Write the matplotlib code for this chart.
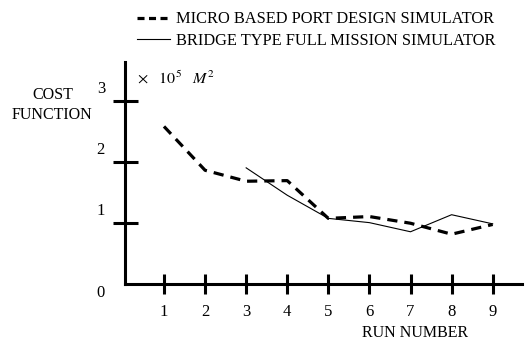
import numpy as np
import matplotlib.pyplot as plt
from matplotlib.lines import Line2D
import matplotlib.transforms as mtransforms

plt.rcParams['font.family'] = ['Liberation Serif', 'DejaVu Serif']

runs = [1, 2, 3, 4, 5, 6, 7, 8, 9]
micro_cost = [2.58, 1.86, 1.68, 1.69, 1.07, 1.10, 0.99, 0.81, 0.97]
bridge_runs = [3, 4, 5, 6, 7, 8, 9]
bridge_cost = [1.90, 1.45, 1.07, 1.00, 0.85, 1.13, 0.98]
y_ticks = [1, 2, 3]

fig = plt.figure(figsize=(5.25, 3.42), dpi=100)
ax = fig.add_axes([0.238, 0.171, 0.756, 0.648])

ax.plot(runs, micro_cost, color='black', lw=2.3, dashes=(3.2, 2.2))
ax.plot(bridge_runs, bridge_cost, color='black', lw=0.8)

ax.set_xlim(0.05, 9.71)
ax.set_ylim(0, 3.64)
for s in ['top', 'right']:
    ax.spines[s].set_visible(False)
for s in ['left', 'bottom']:
    ax.spines[s].set_linewidth(2.2)

ax.set_xticks(runs)
ax.set_xticklabels([str(r) for r in runs], fontsize=12)
ax.set_yticks(y_ticks)
ax.set_yticklabels([])
ax.tick_params(axis='x', direction='inout', length=14, width=2.2, pad=8)
ax.tick_params(axis='y', direction='inout', length=18, width=2.2)

# y labels sit above their ticks in the original
for v in y_ticks:
    off = mtransforms.offset_copy(ax.transData, fig=fig, x=-20, y=12, units='dots')
    ax.text(0.05, v, str(v), transform=off, ha='right', va='center', fontsize=12)
off0 = mtransforms.offset_copy(ax.transData, fig=fig, x=-20, y=-9, units='dots')
ax.text(0.05, 0, '0', transform=off0, ha='right', va='center', fontsize=12)

fig.text(53 / 525, 1 - 95 / 342, 'COST', ha='center', va='center', fontsize=11.5)
fig.text(52 / 525, 1 - 115 / 342, 'FUNCTION', ha='center', va='center', fontsize=11.5)
fig.text(137 / 525, 1 - 79 / 342, r'$\times\quad 10^{5}\quad M^{2}$', ha='left', va='center',
         fontsize=11.5, math_fontfamily='stix')
fig.text(415 / 525, 1 - 333 / 342, 'RUN NUMBER', ha='center', va='center', fontsize=11.5)

handles = [Line2D([], [], color='black', lw=2.3, dashes=(2.2, 1.4)),
           Line2D([], [], color='black', lw=0.8)]
fig.legend(handles, ['MICRO BASED PORT DESIGN SIMULATOR',
                     'BRIDGE TYPE FULL MISSION SIMULATOR'],
           loc='upper left', bbox_to_anchor=(122 / 525, 1.01), frameon=False,
           fontsize=11.8, handlelength=2.0, handletextpad=0.4, labelspacing=0.35)

fig.savefig('out.png', dpi=100)
